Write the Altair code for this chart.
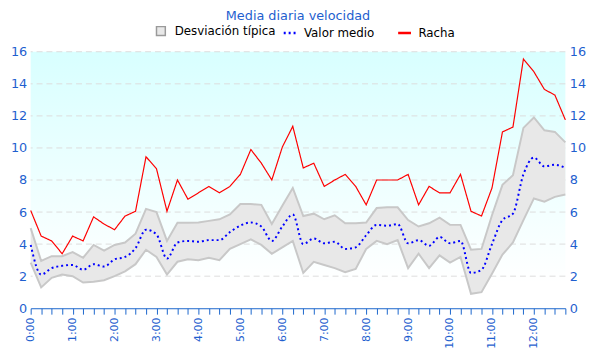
import altair as alt
import pandas as pd

# 15-minute samples from 0:00 to 12:45
racha = [6.1, 4.5, 4.2, 3.4, 4.5, 4.2, 5.7, 5.25, 4.9, 5.75, 6.05, 9.45, 8.7, 6.05, 8.0, 6.8,
         7.2, 7.6, 7.2, 7.6, 8.35, 9.9, 9.05, 8.0, 10.05, 11.35, 8.75, 9.05, 7.6, 8.0, 8.35, 7.6,
         6.45, 8.0, 8.0, 8.0, 8.35, 6.45, 7.6, 7.2, 7.2, 8.35, 6.05, 5.75, 7.5, 11.0, 11.3, 15.55,
         14.75, 13.65, 13.3, 11.75]
media = [3.95, 2.1, 2.5, 2.65, 2.7, 2.4, 2.75, 2.6, 3.05, 3.2, 3.75, 4.9, 4.6, 3.1, 4.1, 4.2,
         4.15, 4.25, 4.25, 4.75, 5.15, 5.35, 5.1, 4.2, 5.1, 5.85, 4.0, 4.35, 4.05, 4.15, 3.7, 3.8,
         4.55, 5.2, 5.15, 5.25, 4.05, 4.25, 3.9, 4.45, 4.05, 4.2, 2.2, 2.4, 4.0, 5.5, 5.9, 8.35,
         9.4, 8.85, 8.95, 8.75]
superior = [5.0, 2.95, 3.25, 3.25, 3.5, 3.15, 3.95, 3.6, 3.95, 4.1, 4.65, 6.2, 6.0, 4.2, 5.33, 5.33,
            5.35, 5.45, 5.55, 5.85, 6.5, 6.5, 6.45, 5.25, 6.4, 7.5, 5.75, 5.9, 5.55, 5.8, 5.3, 5.3,
            5.35, 6.25, 6.3, 6.3, 5.5, 5.1, 5.3, 5.65, 5.2, 5.2, 3.65, 3.7, 5.8, 7.7, 8.3, 11.25,
            11.9, 11.1, 11.0, 10.35]
inferior = [2.85, 1.3, 1.9, 2.1, 2.0, 1.6, 1.65, 1.75, 2.0, 2.3, 2.75, 3.65, 3.2, 2.1, 2.9, 3.05,
            3.0, 3.15, 3.0, 3.7, 4.0, 4.3, 3.95, 3.4, 3.8, 4.2, 2.2, 2.9, 2.7, 2.5, 2.25, 2.45,
            3.7, 4.2, 4.0, 4.25, 2.5, 3.4, 2.5, 3.3, 2.85, 3.2, 0.9, 1.0, 2.15, 3.35, 4.1, 5.5,
            6.85, 6.65, 6.95, 7.1]
band_name = ["Desviación típica"]
line_names = ["Valor medio", "Racha"]
y_ticks = [0, 2, 4, 6, 8, 10, 12, 14, 16]
grid_vals = [2, 4, 6, 8, 10, 12, 14, 16]

horas = [i * 0.25 for i in range(len(racha))]
df = pd.DataFrame({"h": horas, "racha": racha, "media": media,
                   "sup": superior, "inf": inferior})

W, H = 542, 260
BLUE = "#1f5fcf"
xscale = alt.Scale(domain=[0, 12.75], nice=False, zero=False)
yscale = alt.Scale(domain=[0, 16], nice=False)

x_axis = alt.X("h:Q", scale=xscale, axis=alt.Axis(
    values=horas, labelExpr="datum.value % 1 == 0 ? datum.value + ':00' : ''",
    labelAngle=270, title=None, grid=False, zindex=1,
    domainColor="#1a66cc", tickColor="#1a66cc", tickSize=6,
    labelColor=BLUE, labelFontSize=11, labelPadding=3))

y_axis_common = dict(values=y_ticks, grid=False, domain=False, ticks=False,
                     labelColor=BLUE, labelFontSize=13, title=None, labelPadding=4)

# plot-area background gradient
bg = alt.Chart(pd.DataFrame({"a": [0]})).mark_rect(
    color={"gradient": "linear", "x1": 0, "y1": 0, "x2": 0, "y2": 1,
           "stops": [{"offset": 0, "color": "#d8ffff"}, {"offset": 0.9, "color": "#ffffff"}]}
).encode(x=alt.value(0), x2=alt.value(W), y=alt.value(0), y2=alt.value(H))

grid = alt.Chart(pd.DataFrame({"v": grid_vals})).mark_rule(
    color="#dcdcdc", strokeDash=[6, 4], strokeWidth=1
).encode(y=alt.Y("v:Q", scale=yscale, axis=None))

base = alt.Chart(df)

area = base.transform_calculate(banda="'Desviación típica'").mark_area(opacity=1).encode(
    x=x_axis,
    y=alt.Y("sup:Q", scale=yscale, axis=alt.Axis(orient="left", **y_axis_common)),
    y2="inf:Q",
    fill=alt.Fill("banda:N", scale=alt.Scale(domain=band_name, range=["#e8e8e8"]),
                  legend=alt.Legend(orient="none", legendX=126, legendY=-27,
                                    direction="horizontal", title=None,
                                    labelFontSize=12, labelColor="black", labelOffset=8,
                                    symbolType="square", symbolSize=80,
                                    symbolFillColor="#e0e0e0",
                                    symbolStrokeColor="#9a9a9a", symbolStrokeWidth=1.5)))
up_line = base.mark_line(color="#c8c8c8", strokeWidth=2).encode(
    x=x_axis, y=alt.Y("sup:Q", scale=yscale, axis=None))
lo_line = base.mark_line(color="#c8c8c8", strokeWidth=2).encode(
    x=x_axis, y=alt.Y("inf:Q", scale=yscale, axis=None))

line_legend = alt.Legend(orient="none", legendX=255, legendY=-27, direction="horizontal",
                         title=None, labelFontSize=12, labelColor="black",
                         columnPadding=18, labelOffset=6, symbolType="stroke",
                         symbolSize=169, symbolStrokeWidth=2.5)
color_scale = alt.Scale(domain=line_names, range=["#0000ff", "#ff0000"])
dash_scale = alt.Scale(domain=line_names, range=[[2, 3], [1, 0]])

media_line = base.transform_calculate(serie="'Valor medio'").mark_line(
    strokeWidth=2, interpolate="monotone"
).encode(x=x_axis, y=alt.Y("media:Q", scale=yscale, axis=None),
         color=alt.Color("serie:N", scale=color_scale, legend=line_legend),
         strokeDash=alt.StrokeDash("serie:N", scale=dash_scale, legend=line_legend))

racha_line = base.transform_calculate(serie="'Racha'").mark_line(
    strokeWidth=1.2
).encode(x=x_axis,
         y=alt.Y("racha:Q", scale=yscale, axis=alt.Axis(orient="right", **y_axis_common)),
         color=alt.Color("serie:N", scale=color_scale, legend=line_legend),
         strokeDash=alt.StrokeDash("serie:N", scale=dash_scale, legend=line_legend))

chart = alt.layer(bg, grid, area, up_line, lo_line, media_line, racha_line).resolve_axis(
    y="independent"
).properties(
    width=W, height=H,
    title=alt.TitleParams("Media diaria velocidad", color=BLUE, fontSize=13,
                          fontWeight="normal", anchor="middle", offset=2),
    autosize=alt.AutoSizeParams(type="none"),
    padding={"left": 23, "top": 42, "right": 27, "bottom": 42},
).configure(font="DejaVu Sans").configure_view(stroke="transparent")

chart.save("out.html", embed_options={"renderer": "svg", "actions": False})
